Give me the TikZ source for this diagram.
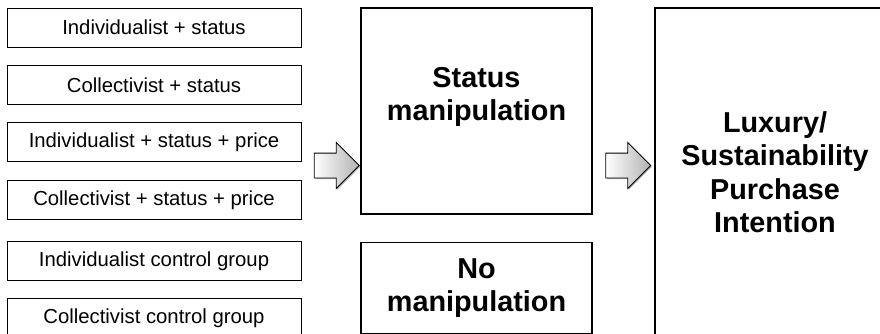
\documentclass[tikz,border=0pt]{standalone}
\usepackage{fontspec}
\setmainfont{Liberation Sans}
\usetikzlibrary{shapes.arrows, positioning, shadows}

\begin{document}
\begin{tikzpicture}[
    x=1pt, y=-1pt,
    node distance=17.5pt,
    group/.style={rectangle, draw, line width=0.9pt, minimum width=294pt, minimum height=39pt, inner sep=0pt, font=\fontsize{20.3}{24}\selectfont},
    bigbox/.style={rectangle, draw, line width=1.3pt, inner sep=0pt, align=center, font=\fontsize{28.8}{33.4}\selectfont\bfseries},
    fatarrow/.style={single arrow, draw, line width=0.9pt, minimum height=45pt, inner xsep=0pt, inner ysep=12pt, single arrow head extend=10.5pt, single arrow head indent=0pt, left color=white, right color=gray!60, drop shadow={shadow xshift=1.2pt, shadow yshift=-1.2pt, fill=black!60}}
]
\useasboundingbox (0,0) rectangle (880,333);
\clip (0,0) rectangle (880,333);

% groups
\node[group] (indst) at (154,27.5) {Individualist + status};
\node[group, below=of indst] (colst) {Collectivist + status};
\node[group, below=of colst] (indpr) {Individualist + status + price};
\node[group, below=18pt of indpr] (colpr) {Collectivist + status + price};
\node[group, below=21pt of colpr] (indctl) {Individualist control group};
\node[group, below=17pt of indctl] (colctl) {Collectivist control group};

% manipulation
\node[bigbox, minimum width=231pt, minimum height=206pt, text depth=34pt] (status) at (476.5,111) {Status\\manipulation};
\node[bigbox, minimum width=231pt, minimum height=91pt, below=27pt of status] (nomanip) {No\\manipulation};

% outcome
\node[bigbox, minimum width=240pt, minimum height=328pt] (intent) at (775,172) {Luxury/\\Sustainability\\Purchase\\Intention};

\node[fatarrow] (arrA) at (330.5,165.5) {};
\node[fatarrow] (arrB) at (622,165.5) {};
\end{tikzpicture}
\end{document}
